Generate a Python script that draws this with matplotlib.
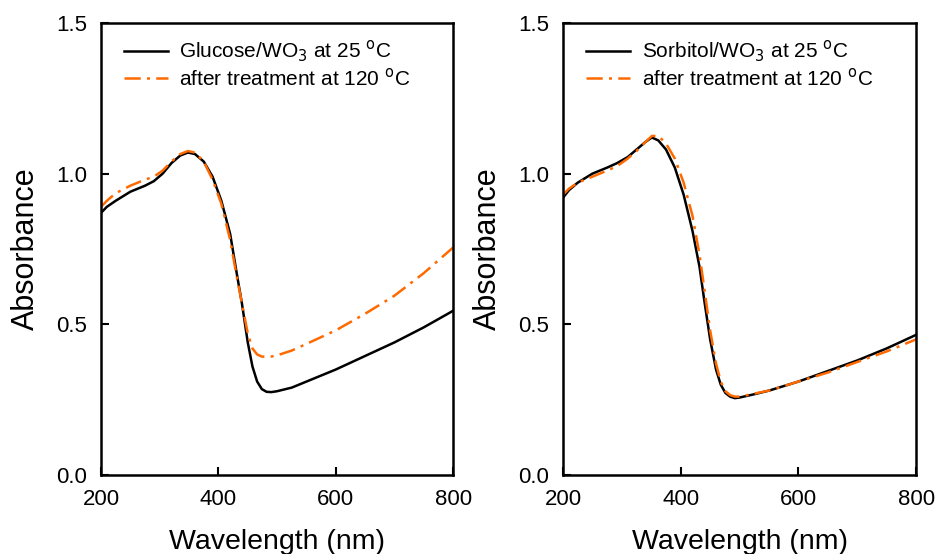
import matplotlib.pyplot as plt
import numpy as np

plt.rcParams['font.family'] = ['Liberation Sans', 'DejaVu Sans']

# Glucose/WO3 panel
wl_glu = [200, 210, 225, 250, 275, 290, 305, 320, 335, 348, 360, 375, 390, 405, 420,
          432, 440, 450, 458, 466, 474, 482, 490, 500, 525, 550, 600, 650, 700, 750, 800]
glu_25 = [0.87, 0.89, 0.91, 0.94, 0.96, 0.975, 1.00, 1.035, 1.06, 1.07, 1.065, 1.04, 0.99,
          0.91, 0.80, 0.66, 0.57, 0.44, 0.36, 0.31, 0.285, 0.276, 0.275, 0.278, 0.29, 0.31,
          0.35, 0.395, 0.44, 0.49, 0.545]
glu_120 = [0.89, 0.91, 0.935, 0.96, 0.98, 0.99, 1.01, 1.04, 1.065, 1.075, 1.07, 1.04, 0.98,
           0.90, 0.78, 0.65, 0.57, 0.47, 0.42, 0.40, 0.393, 0.392, 0.393, 0.397, 0.413, 0.435,
           0.48, 0.535, 0.595, 0.67, 0.755]

# Sorbitol/WO3 panel
wl_sor = [200, 210, 225, 250, 275, 292, 310, 325, 340, 351, 362, 375, 390, 405, 420,
          432, 440, 450, 460, 468, 476, 484, 492, 500, 525, 550, 600, 650, 700, 750, 800]
sor_25 = [0.92, 0.945, 0.97, 1.00, 1.02, 1.035, 1.055, 1.08, 1.105, 1.12, 1.11, 1.08, 1.02,
          0.93, 0.81, 0.69, 0.58, 0.45, 0.35, 0.30, 0.272, 0.26, 0.255, 0.257, 0.268, 0.28,
          0.31, 0.345, 0.38, 0.42, 0.465]
sor_120 = [0.93, 0.95, 0.97, 0.99, 1.01, 1.025, 1.05, 1.075, 1.105, 1.125, 1.125, 1.10, 1.05,
           0.97, 0.86, 0.73, 0.62, 0.48, 0.37, 0.31, 0.278, 0.265, 0.26, 0.26, 0.27, 0.28,
           0.31, 0.34, 0.375, 0.41, 0.45]

orange = '#ff6a00'
fig = plt.figure(figsize=(9.39, 5.54), dpi=100)
ax1 = fig.add_axes([0.1076, 0.1426, 0.375, 0.816])
ax2 = fig.add_axes([0.5996, 0.1426, 0.376, 0.816])

panels = [(ax1, wl_glu, glu_25, glu_120, 'Glucose/WO$_3$ at 25 $^{\\rm o}$C'),
          (ax2, wl_sor, sor_25, sor_120, 'Sorbitol/WO$_3$ at 25 $^{\\rm o}$C')]

for ax, wl, a, b, lab in panels:
    ax.plot(wl, a, color='black', lw=1.8, label=lab)
    ax.plot(wl, b, color=orange, lw=1.8, dashes=(6.5, 2.5, 1.2, 2.5),
            label='after treatment at 120 $^{\\rm o}$C')
    ax.set_xlim(200, 800)
    ax.set_ylim(0, 1.5)
    ax.set_xticks([200, 400, 600, 800])
    ax.set_yticks([0.0, 0.5, 1.0, 1.5])
    ax.set_yticklabels(['0.0', '0.5', '1.0', '1.5'])
    ax.tick_params(direction='in', length=6, width=1.5, labelsize=16, pad=10)
    for s in ax.spines.values():
        s.set_linewidth(1.8)
    ax.set_xlabel('Wavelength (nm)', fontsize=20.5, labelpad=14)
    ax.set_ylabel('Absorbance', fontsize=22, labelpad=11)
    ax.legend(loc='upper left', frameon=False, fontsize=15, handlelength=2.1,
              handletextpad=0.55, borderpad=0, borderaxespad=0, labelspacing=0.14,
              bbox_to_anchor=(0.066, 0.965))

fig.savefig('out.png', dpi=100)
